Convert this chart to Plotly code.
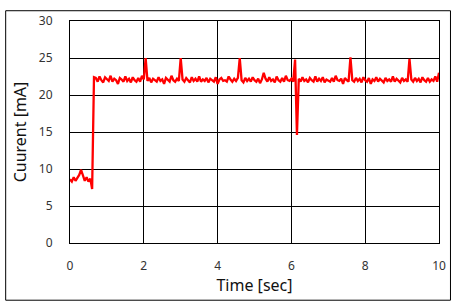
import plotly.graph_objects as go

current = [
    8.6, 8.3, 8.9, 8.4, 8.8, 9.2, 9.9, 9.0, 8.4, 8.9, 8.3, 8.7, 7.3,
    22.4,
    22.3, 21.8, 22.5, 22.0, 21.7, 22.4, 22.1, 21.9, 22.6, 21.8, 22.2, 22.0, 21.5, 22.3,
    22.1, 21.8, 22.5, 21.9, 22.2, 21.7, 22.4, 22.0, 21.8, 22.3, 21.8, 22.6, 22.1,
    25.0,
    21.9, 22.3, 21.7, 22.2, 22.0, 21.8, 22.4, 21.9, 22.1, 21.5, 22.3, 22.0, 21.8, 22.6,
    22.0, 21.8, 22.2, 21.9,
    25.0,
    22.1, 21.8, 22.3, 22.0, 21.7, 22.4, 21.9, 22.2, 21.8, 22.5, 21.8, 22.1, 21.9, 22.3,
    21.7, 22.2, 22.0, 21.8, 22.4, 21.5, 22.1, 22.3, 21.9, 22.0, 21.8, 22.5, 22.1, 21.8,
    22.2, 21.9, 22.3,
    25.0,
    22.0, 21.7, 22.3, 21.9, 22.2, 21.8, 22.4, 22.0, 21.8, 22.2, 21.6, 22.1,
    23.0,
    22.2, 21.8, 22.4, 21.9, 22.1, 21.7, 22.5, 22.0, 21.8, 22.3, 21.8, 22.6, 22.0, 21.9,
    22.2, 21.8,
    24.8, 14.6,
    22.2, 21.8, 22.4, 21.9, 22.1, 21.7, 22.3, 22.0, 21.8, 22.5, 21.8, 22.2, 21.9, 22.4,
    21.7, 22.1, 22.0, 21.8, 22.3, 21.8, 22.6, 22.0, 21.9, 22.2, 21.5, 22.3, 22.0, 21.8,
    25.1,
    22.0, 21.8, 22.3, 21.9, 22.2, 21.7, 22.4, 22.0, 21.8, 22.3, 21.5, 22.1, 21.9, 22.4,
    21.8, 22.2, 22.0, 21.7, 22.3, 21.9, 22.1, 21.8, 22.5, 21.8, 22.2, 22.0, 21.7, 22.3,
    21.9, 22.1, 21.8,
    24.9,
    22.1, 21.8, 22.3, 21.9, 22.2, 21.7, 22.4, 22.0, 21.8, 22.3, 21.8, 22.1, 21.9, 22.5,
    21.8,
    23.0,
]
sample_step = 0.05
time = [round(i * sample_step, 2) for i in range(len(current))]

x_ticks = [0, 2, 4, 6, 8, 10]
y_ticks = [0, 5, 10, 15, 20, 25, 30]

fig = go.Figure()
fig.add_trace(go.Scatter(x=time, y=current, mode="lines",
                         line=dict(color="#ff0000", width=2.3), showlegend=False))

W, H = 458, 307
L, R, T, B = 70, 18, 16, 64
pw, ph = W - L - R, H - T - B

def px_x(p):
    return (p - L) / pw

def px_y(p):
    return (H - B - p) / ph

fig.add_shape(type="rect", xref="paper", yref="paper",
              x0=px_x(5.5), x1=px_x(451.5), y0=px_y(301.5), y1=px_y(5.5),
              line=dict(color="#000000", width=1), layer="below")

fig.update_layout(
    width=W, height=H,
    margin=dict(l=L, r=R, t=T, b=B),
    paper_bgcolor="white", plot_bgcolor="white",
    font=dict(family="Noto Sans", color="#333333", size=12),
)
fig.update_xaxes(range=[0, 10], tickvals=x_ticks, showgrid=True, gridcolor="black",
                 gridwidth=1, showline=True, linecolor="black", linewidth=1, mirror=True,
                 zeroline=False, ticks="", ticklabelstandoff=12,
                 title=dict(text="Time [sec]", font=dict(size=16, color="#111111"), standoff=6))
fig.update_yaxes(range=[0, 30], tickvals=y_ticks, showgrid=True, gridcolor="black",
                 gridwidth=1, showline=True, linecolor="black", linewidth=1, mirror=True,
                 zeroline=False, ticks="", ticklabelstandoff=14,
                 title=dict(text="Cuurent [mA]", font=dict(size=16, color="#111111"), standoff=8))

fig.write_html("out.html")
